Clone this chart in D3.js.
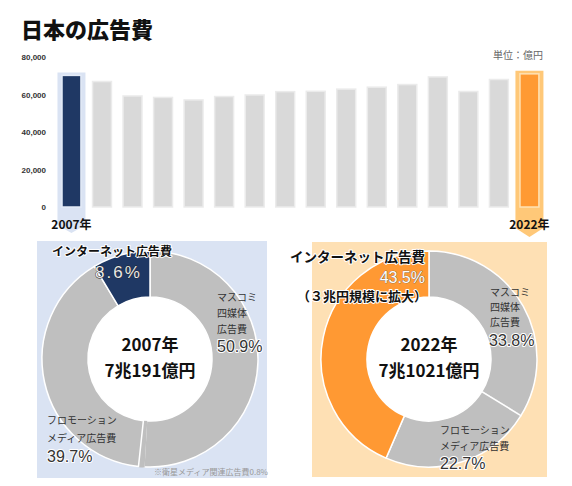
<!DOCTYPE html>
<html>
<head>
<meta charset="utf-8">
<script src="https://cdn.jsdelivr.net/npm/d3@7"></script>
<style>
body { margin: 0; background: #fff; }
text { font-family: "Noto Sans CJK JP", sans-serif; }
.num { font-family: "Liberation Sans", Arial, sans-serif; }
.axis text { font-family: "Liberation Sans", Arial, sans-serif; font-weight: bold; font-size: 8px; }
</style>
</head>
<body>
<div id="chart"></div>
<script>
// advertising spend in Japan, 100 million yen
var years = ["2007", "2008", "2009", "2010", "2011", "2012", "2013", "2014",
             "2015", "2016", "2017", "2018", "2019", "2020", "2021", "2022"];
var spend = [70191, 66926, 59222, 58427, 57096, 58913, 59762, 61522,
             61710, 62880, 63907, 65300, 69381, 61594, 67998, 71021];
var yTicks = [0, 20000, 40000, 60000, 80000];

// donut segments (clockwise from 12 o'clock)
var segments = ["マスコミ四媒体広告費", "衛星メディア関連広告費", "プロモーションメディア広告費", "インターネット広告費"];
var share2007 = [50.9, 0.8, 39.7, 8.6];
var share2022 = [33.8, 0, 22.7, 43.5];
var total2007 = "7兆191億円";
var total2022 = "7兆1021億円";

var W = 572, H = 486;
var svg = d3.select("#chart").append("svg")
    .attr("width", W)
    .attr("height", H);

// title
svg.append("text")
    .attr("x", 21)
    .attr("y", 38)
    .attr("font-size", 22)
    .attr("font-weight", 900)
    .attr("fill", "#111")
    .text("日本の広告費");

svg.append("text")
    .attr("x", 543)
    .attr("y", 59)
    .attr("text-anchor", "end")
    .attr("font-size", 10)
    .attr("fill", "#666")
    .text("単位：億円");

/* bar chart */
var x = d3.scaleBand()
    .domain(years)
    .range([56.2, 544.7])
    .paddingInner(0.38)
    .paddingOuter(0.19);

var y = d3.scaleLinear()
    .domain([0, 80000])
    .range([207, 57]);

var first = years[0], last = years[years.length - 1];
var hiBand = {};
hiBand[first] = { fill: "#dae3f3", bar: "#1f3864", stroke: "#e4ebf7", tip: 233, side: 225 };
hiBand[last] = { fill: "#ffc878", bar: "#ff9a33", stroke: "#ffe2b5", tip: 237, side: 228 };

var bars = svg.append("g").attr("class", "bars");

// pointer bands behind the first and last bar
[first, last].forEach(function(yr) {
    var h = hiBand[yr];
    var cx = x(yr) + x.bandwidth() / 2;
    var half = 14;
    var top = y(spend[years.indexOf(yr)]) - 3;
    bars.append("path")
        .attr("d", "M" + (cx - half) + "," + top +
                   "L" + (cx + half) + "," + top +
                   "L" + (cx + half) + "," + h.side +
                   "L" + cx + "," + h.tip +
                   "L" + (cx - half) + "," + h.side + "Z")
        .attr("fill", h.fill);
});

bars.selectAll("rect")
    .data(years)
    .enter().append("rect")
    .attr("x", function(d) { return x(d); })
    .attr("width", x.bandwidth())
    .attr("y", function(d, i) { return y(spend[i]); })
    .attr("height", function(d, i) { return y(0) - y(spend[i]); })
    .attr("fill", function(d) { return hiBand[d] ? hiBand[d].bar : "#d9d9d9"; })
    .attr("stroke", function(d) { return hiBand[d] ? hiBand[d].stroke : "#ebebeb"; })
    .attr("stroke-width", 1.5);

[first, last].forEach(function(yr) {
    bars.append("text")
        .attr("x", x(yr) + x.bandwidth() / 2)
        .attr("y", 225)
        .attr("dy", "0.35em")
        .attr("text-anchor", "middle")
        .attr("font-size", 12)
        .attr("font-weight", "bold")
        .attr("fill", "#111")
        .text(yr + "年");
});

var yAxis = d3.axisLeft(y)
    .tickValues(yTicks)
    .tickSize(0)
    .tickPadding(3)
    .tickFormat(d3.format(","));

var yg = svg.append("g")
    .attr("class", "axis")
    .attr("transform", "translate(49,0)")
    .call(yAxis);
yg.select(".domain").remove();
yg.selectAll("text").attr("fill", "#333");

/* donuts */
var pie = d3.pie().sort(null).value(function(d) { return d.v; });
var arc = d3.arc().innerRadius(62).outerRadius(108);

function label(g, px, py, str, opt) {
    opt = opt || {};
    var t = g.append("text")
        .attr("x", px)
        .attr("y", py)
        .attr("dy", "0.36em")
        .attr("text-anchor", opt.anchor || "start")
        .attr("font-size", opt.size || 10)
        .attr("font-weight", opt.weight || 400)
        .attr("fill", opt.fill || "#333")
        .attr("letter-spacing", opt.ls || 0)
        .text(str);
    if (opt.num) t.attr("class", "num");
    if (opt.halo) {
        t.attr("stroke", opt.halo)
         .attr("stroke-width", opt.hw || 2)
         .attr("stroke-linejoin", "round")
         .attr("paint-order", "stroke");
    }
    return t;
}

function donut(cx, cy, shares, netColor, year, total, panel) {
    var g = svg.append("g");
    g.append("rect")
        .attr("x", panel[0]).attr("y", panel[1])
        .attr("width", panel[2]).attr("height", panel[3])
        .attr("fill", panel[4]);

    var rows = segments.map(function(s, i) { return { key: s, v: shares[i], i: i }; });
    var colors = ["#bfbfbf", "#bfbfbf", "#bfbfbf", netColor];
    var dg = g.append("g").attr("transform", "translate(" + cx + "," + cy + ")");
    dg.selectAll("path")
        .data(pie(rows))
        .enter().append("path")
        .attr("d", arc)
        .attr("fill", function(d) { return colors[d.data.i]; })
        // satellite slice blends into its neighbour
        .attr("stroke", function(d) { return d.data.i === 1 ? colors[1] : "#fff"; })
        .attr("stroke-width", 1.5);
    dg.append("circle").attr("r", 62).attr("fill", "#fff");

    label(dg, 0, -14, year + "年", { anchor: "middle", size: 17, weight: 700, fill: "#111" });
    label(dg, 0, 12, total, { anchor: "middle", size: 17, weight: 700, fill: "#111" });
    return g;
}

function pct(v) { return v.toFixed(1) + "%"; }

// 2007
var g07 = donut(150, 359, share2007, "#1f3864", years[0], total2007, [37, 241, 230, 237, "#dae3f3"]);
label(g07, 52, 252, "インターネット広告費", { size: 12, weight: 700, fill: "#111", halo: "#fff", hw: 2 });
label(g07, 95, 272, pct(share2007[3]), { num: true, size: 17, fill: "#e8e8e8", halo: "#222", hw: 0.8, ls: 2 });
label(g07, 217, 297, "マスコミ");
label(g07, 217, 313, "四媒体");
label(g07, 217, 329, "広告費");
label(g07, 217, 346, pct(share2007[0]), { num: true, size: 16, halo: "#fff", hw: 2 });
label(g07, 47, 420, "フロモーション");
label(g07, 47, 438, "メディア広告費");
label(g07, 47, 456, pct(share2007[2]), { num: true, size: 16, halo: "#fff", hw: 2 });
label(g07, 268, 472, "※衛星メディア関連広告費" + share2007[1].toFixed(1) + "%", { anchor: "end", size: 8, fill: "#999" });

// 2022
var g22 = donut(429, 359, share2022, "#ff9933", years[years.length - 1], total2022, [312, 242, 235, 235, "#fee0b4"]);
label(g22, 425, 257, "インターネット広告費", { anchor: "end", size: 13.5, weight: 700, fill: "#111", halo: "#fff", hw: 2 });
label(g22, 425, 277, pct(share2022[3]), { num: true, anchor: "end", size: 16, fill: "#fff", halo: "#555", hw: 0.6 });
label(g22, 427, 296, "（３兆円規模に拡大）", { anchor: "end", size: 13, weight: 700, fill: "#111", halo: "#fff", hw: 2 });
label(g22, 490, 292, "マスコミ");
label(g22, 490, 307, "四媒体");
label(g22, 490, 322, "広告費");
label(g22, 489, 340, pct(share2022[0]), { num: true, size: 16, halo: "#fff", hw: 2 });
label(g22, 440, 430, "フロモーション");
label(g22, 440, 446, "メディア広告費");
label(g22, 440, 463, pct(share2022[2]), { num: true, size: 16, halo: "#fff", hw: 2 });
</script>
</body>
</html>
